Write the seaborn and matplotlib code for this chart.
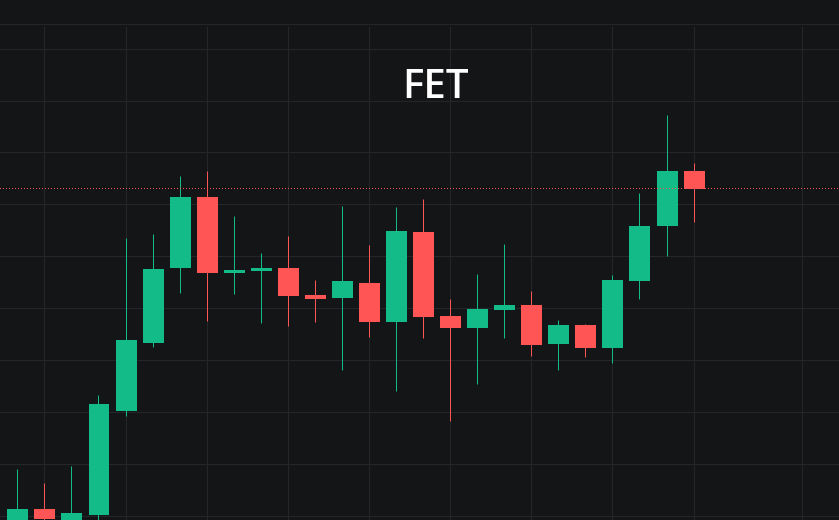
import matplotlib
matplotlib.use("Agg")
import matplotlib.pyplot as plt
from matplotlib.transforms import Affine2D
import seaborn as sns
import pandas as pd

title = "FET"
# price in arbitrary units (no axis labels in the reference)
opens  = [-5, 11, -5, 5, 109, 177, 252, 323, 247, 249, 252, 225, 222, 237, 198, 288, 204, 192, 210, 215, 176, 195, 172, 239, 294, 349]
closes = [11, 1, 7, 116, 180, 251, 323, 247, 250, 252, 224, 221, 239, 198, 289, 203, 192, 211, 215, 175, 195, 172, 240, 294, 349, 331]
highs  = [51, 37, 54, 125, 282, 286, 344, 349, 304, 267, 284, 240, 314, 275, 313, 321, 221, 246, 276, 229, 200, 196, 245, 327, 405, 357]
lows   = [-8, -4, -8, -4, 104, 173, 227, 199, 226, 197, 194, 198, 150, 183, 129, 182, 99, 136, 182, 164, 150, 163, 157, 221, 264, 298]
last_price = 331.5
grid_y = [4, 56, 108, 160, 212, 264, 316, 368, 419, 471, 496]
grid_i = [1, 4, 7, 10, 13, 16, 19, 22, 25, 29]

BG, GREEN, RED, GRID = "#131517", "#12BB87", "#FF5555", "#24262A"

sns.set_theme(style="dark")
df = pd.DataFrame({"i": range(len(opens)), "o": opens, "c": closes, "h": highs, "l": lows})
df["bottom"] = df[["o", "c"]].min(axis=1)
df["height"] = (df["c"] - df["o"]).abs()
df["up"] = df["c"] > df["o"]

XLIM = (-0.66, 30.358)
fig = plt.figure(figsize=(8.39, 5.2), dpi=100, facecolor=BG)
ax = fig.add_axes([0, 0, 1, 1], facecolor=BG)
ax.set_xlim(*XLIM)
ax.set_ylim(0, 520)

px = 72 / 100
# half-pixel nudge so snapped 1 px lines land on the same pixel columns as the bars' centres
nudge = ax.transData + Affine2D().translate(-0.5, 0)

ax.hlines(grid_y, -1, 31, color=GRID, lw=px, zorder=0, snap=True)
ax.vlines(grid_i, -10, 494, color=GRID, lw=px, zorder=0, snap=True, transform=nudge)

for up, col in ((True, GREEN), (False, RED)):
    sub = df[df["up"] == up]
    ax.vlines(sub["i"], sub["l"], sub["h"], color=col, lw=px, zorder=2, snap=True, transform=nudge)
    sns.barplot(data=sub, x="i", y="height", native_scale=True, color=col, saturation=1,
                width=0.776, bottom=sub["bottom"].to_numpy(), errorbar=None, ax=ax,
                linewidth=0, zorder=3)

ax.axhline(last_price, color=RED, lw=px, ls=(0, (1, 2)), zorder=4, snap=False)
ax.text(0.519, 0.83, title, transform=ax.transAxes, color="white", fontsize=29,
        family="Open Sans", fontweight="semibold", ha="center", va="center", zorder=5)

ax.set_xlim(*XLIM)
ax.set_ylim(0, 520)
ax.set_xlabel(""); ax.set_ylabel("")
ax.set_xticks([]); ax.set_yticks([])
ax.grid(False)
for s in ax.spines.values():
    s.set_visible(False)
fig.savefig("out.png", dpi=100, facecolor=BG)
